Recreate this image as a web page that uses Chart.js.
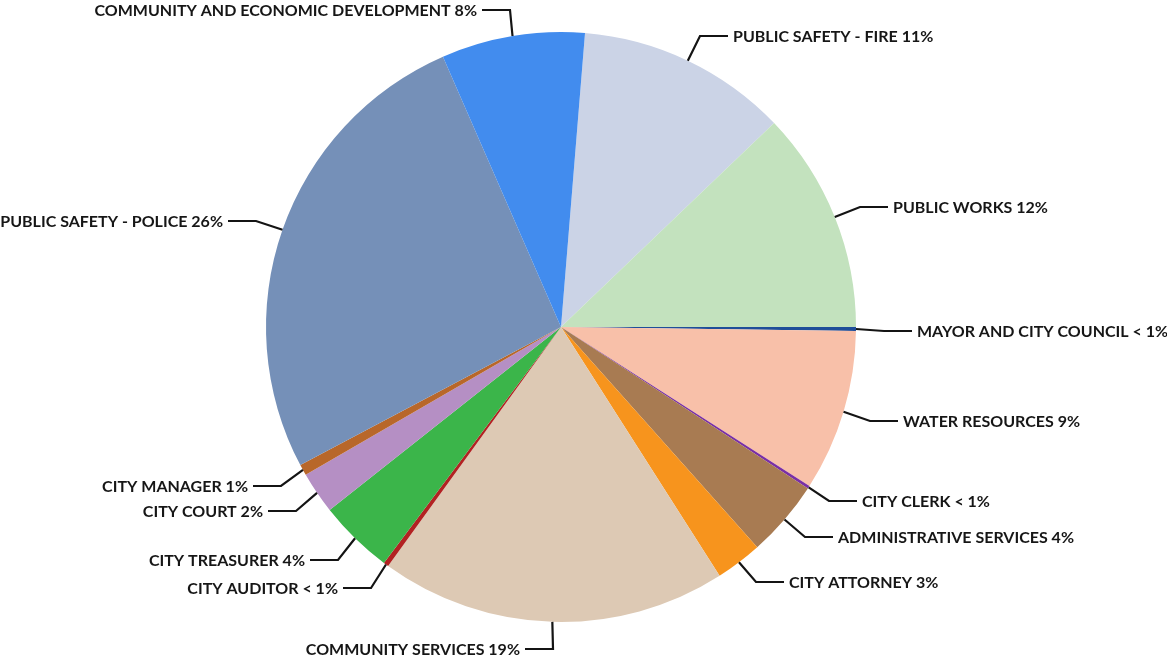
<!DOCTYPE html>
<html>
<head>
<meta charset="utf-8">
<script src="https://cdn.jsdelivr.net/npm/chart.js@4.4.1/dist/chart.umd.min.js"></script>
<style>
  html, body { margin: 0; padding: 0; background: #fff; }
  #wrap { width: 1167px; height: 660px; }
</style>
</head>
<body>
<div id="wrap"><canvas id="pie" width="1167" height="660"></canvas></div>
<script>
// departments, clockwise from the top
const departments = [
  'PUBLIC SAFETY - FIRE',
  'PUBLIC WORKS',
  'MAYOR AND CITY COUNCIL',
  'WATER RESOURCES',
  'CITY CLERK',
  'ADMINISTRATIVE SERVICES',
  'CITY ATTORNEY',
  'COMMUNITY SERVICES',
  'CITY AUDITOR',
  'CITY TREASURER',
  'CITY COURT',
  'CITY MANAGER',
  'PUBLIC SAFETY - POLICE',
  'COMMUNITY AND ECONOMIC DEVELOPMENT'
];
// share of budget (%)
const shares = [11.55, 12.15, 0.22, 8.85, 0.15, 4.2, 2.55, 19.0, 0.28, 4.1, 2.3, 0.6, 26.2, 7.85];
const shareText = ['11%', '12%', '< 1%', '9%', '< 1%', '4%', '3%', '19%', '< 1%', '4%', '2%', '1%', '26%', '8%'];

const colors = [
  '#cbd3e6', '#c3e2be', '#1f4e99', '#f8c0a9', '#7a2fa5', '#a87b52', '#f7941d',
  '#ddc9b4', '#b22222', '#3bb54a', '#b58fc4', '#b8672a', '#7590b8', '#428cee'
];

// where each label sits: x = edge of text next to the leader, y = text middle
const labelPos = [
  { x: 733, y: 36, side: 'right' },
  { x: 893, y: 207, side: 'right' },
  { x: 917, y: 331, side: 'right' },
  { x: 903, y: 421, side: 'right' },
  { x: 862, y: 501, side: 'right' },
  { x: 838, y: 537, side: 'right' },
  { x: 789, y: 582, side: 'right' },
  { x: 520, y: 649, side: 'left' },
  { x: 338, y: 588, side: 'left' },
  { x: 305, y: 560, side: 'left' },
  { x: 263, y: 511, side: 'left' },
  { x: 248, y: 486, side: 'left' },
  { x: 223, y: 221, side: 'left' },
  { x: 477, y: 10, side: 'left' }
];

const leaderLabels = {
  id: 'leaderLabels',
  afterDatasetsDraw(chart) {
    const ctx = chart.ctx;
    const arcs = chart.getDatasetMeta(0).data;
    ctx.save();
    ctx.font = 'bold 16px Lato';
    ctx.textBaseline = 'middle';
    arcs.forEach((arc, i) => {
      const p = arc.getProps(['x', 'y', 'startAngle', 'endAngle', 'outerRadius'], true);
      const mid = (p.startAngle + p.endAngle) / 2;
      const sx = p.x + Math.cos(mid) * p.outerRadius;
      const sy = p.y + Math.sin(mid) * p.outerRadius;
      const lp = labelPos[i];
      const dir = lp.side === 'right' ? 1 : -1;
      const endX = lp.x - dir * 5;
      const elbowX = endX - dir * 28;

      ctx.strokeStyle = '#141414';
      ctx.lineWidth = 2.2;
      ctx.beginPath();
      ctx.moveTo(sx, sy);
      ctx.lineTo(elbowX, lp.y);
      ctx.lineTo(endX, lp.y);
      ctx.stroke();

      ctx.fillStyle = '#161616';
      ctx.textAlign = lp.side === 'right' ? 'left' : 'right';
      ctx.fillText(departments[i] + ' ' + shareText[i], lp.x, lp.y + 1);
    });
    ctx.restore();
  }
};

new Chart(document.getElementById('pie'), {
  type: 'pie',
  data: {
    labels: departments,
    datasets: [{
      data: shares,
      backgroundColor: colors,
      borderWidth: 0
    }]
  },
  options: {
    responsive: false,
    animation: false,
    rotation: 4.67,
    layout: { padding: { top: 32, bottom: 38, left: 200, right: 245 } },
    plugins: {
      legend: { display: false },
      tooltip: { enabled: false }
    }
  },
  plugins: [leaderLabels]
});
</script>
</body>
</html>
